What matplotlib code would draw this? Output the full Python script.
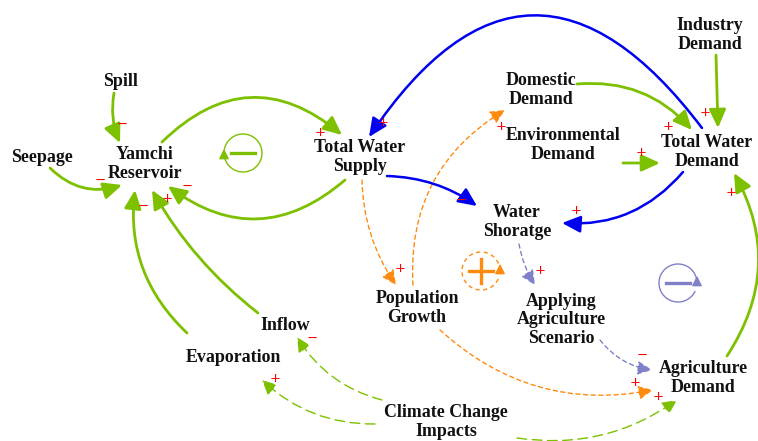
import matplotlib.pyplot as plt
from matplotlib.patches import FancyArrowPatch, Arc

# variable names and where their text sits (pixel coords, y down)
node_names = ['Spill', 'Seepage', 'Yamchi\nReservoir', 'Total Water\nSupply',
              'Domestic\nDemand', 'Environmental\nDemand', 'Industry\nDemand',
              'Total Water\nDemand', 'Water\nShoratge', 'Population\nGrowth',
              'Applying\nAgriculture\nScenario', 'Inflow', 'Evaporation',
              'Agriculture\nDemand', 'Climate Change\nImpacts']
node_x = [120, 42, 145, 360, 541, 563, 710, 707, 517, 417, 561, 285, 233, 703, 446]
node_y = [81, 158, 164, 157, 90, 145, 35, 152, 222, 308, 320, 325, 357, 378, 422]

# causal links: start, end, curvature, kind, polarity and where the sign goes
link_start = [(114, 93), (50, 168), (162, 142), (345, 180), (187, 333), (258, 313),
              (382, 400), (375, 424), (517, 438), (727, 356), (440, 330),
              (600, 340), (519, 244), (362, 180), (413, 285), (577, 84),
              (716, 55), (623, 163), (683, 172), (387, 176), (702, 128)]
link_end = [(120, 143), (122, 185), (342, 135), (168, 186), (135, 190), (152, 190),
            (297, 337), (262, 380), (677, 400), (734, 173), (653, 390),
            (652, 370), (535, 285), (396, 285), (505, 110), (692, 130),
            (718, 128), (660, 163), (562, 223), (477, 206), (369, 137)]
link_rad = [0.15, 0.3, -0.45, -0.4, -0.25, -0.1, -0.2, -0.2, 0.2, 0.3, 0.25,
            0.2, 0.1, 0.15, -0.3, -0.25, 0.0, 0.0, -0.25, -0.15, 0.7]
link_kind = ['green', 'green', 'green', 'green', 'green', 'green',
             'green_d', 'green_d', 'green_d', 'green', 'orange_d',
             'purple_d', 'purple_d', 'orange_d', 'orange_d', 'green',
             'green', 'green', 'blue', 'blue', 'blue']
link_sign = ['-', '-', '+', '-', '-', '+', '-', '+', '+', '+', '+',
             '-', '+', '+', '+', '+', '+', '+', '+', '-', '+']
sign_xy = [(122, 124), (100, 180), (320, 133), (187, 186), (143, 206), (167, 198),
           (312, 338), (275, 378), (658, 397), (731, 193), (635, 382),
           (642, 355), (540, 270), (400, 269), (501, 127), (668, 126),
           (705, 112), (641, 153), (576, 210), (461, 200), (383, 123)]

# feedback loop markers
loop_x = [243, 481, 678]
loop_y = [153, 271, 283]
loop_sign = ['-', '+', '-']
loop_kind = ['green', 'orange_d', 'purple_d']

styles = {
    'green': dict(color='#7DC000', lw=2.0, ls='-'),
    'green_d': dict(color='#7DC000', lw=1.0, ls=(0, (7, 4))),
    'blue': dict(color='#0000F0', lw=1.8, ls='-'),
    'orange_d': dict(color='#FF8A10', lw=1.0, ls=(0, (3, 2.5))),
    'purple_d': dict(color='#8080C8', lw=1.0, ls=(0, (3, 2.5))),
}

fig = plt.figure(figsize=(7.58, 4.41), dpi=100)
ax = fig.add_axes([0, 0, 1, 1])
ax.set_xlim(0, 758)
ax.set_ylim(441, 0)
ax.axis('off')

for name, x, y in zip(node_names, node_x, node_y):
    ax.text(x, y, name, ha='center', va='center', family='Liberation Serif',
            weight='bold', fontsize=12.9, linespacing=1.15, color='#111111')

for p0, p1, rad, kind, sign, sxy in zip(link_start, link_end, link_rad,
                                        link_kind, link_sign, sign_xy):
    st = styles[kind]
    hl = 7 if kind in ('green', 'blue') else 5.5
    hw = 3.2 if kind in ('green', 'blue') else 2.6
    arr = FancyArrowPatch(p0, p1, connectionstyle='arc3,rad=%s' % rad,
                          arrowstyle='-|>,head_length=%s,head_width=%s' % (hl, hw),
                          color=st['color'], lw=st['lw'], linestyle=st['ls'],
                          shrinkA=0, shrinkB=0, mutation_scale=1.6)
    ax.add_patch(arr)
    ax.text(sxy[0], sxy[1], '+' if sign == '+' else '\u2212', ha='center',
            va='center', color='red', fontsize=9.5, family='DejaVu Sans')

for x, y, sign, kind in zip(loop_x, loop_y, loop_sign, loop_kind):
    col = styles[kind]['color']
    r = 19
    if kind == 'green':
        ax.add_patch(Arc((x, y), 2 * r, 2 * r, theta1=190, theta2=165,
                         color=col, lw=1.0))
        ax.annotate('', xy=(x - r, y - 7), xytext=(x - r, y + 2),
                    arrowprops=dict(arrowstyle='-|>,head_length=0.6,head_width=0.3',
                                    color=col, lw=1.0))
    else:
        ls = styles[kind]['ls'] if kind == 'orange_d' else '-'
        ax.add_patch(Arc((x, y), 2 * r, 2 * r, theta1=25, theta2=345,
                         color=col, lw=1.0, linestyle=ls))
        ax.annotate('', xy=(x + r, y - 10), xytext=(x + r, y + 2),
                    arrowprops=dict(arrowstyle='-|>,head_length=0.6,head_width=0.3',
                                    color=col, lw=1.0))
    ax.plot([x - 12, x + 12], [y, y], color=col, lw=2.4)
    if sign == '+':
        ax.plot([x, x], [y - 12, y + 12], color=col, lw=2.4)

fig.savefig('out.png', dpi=100)
